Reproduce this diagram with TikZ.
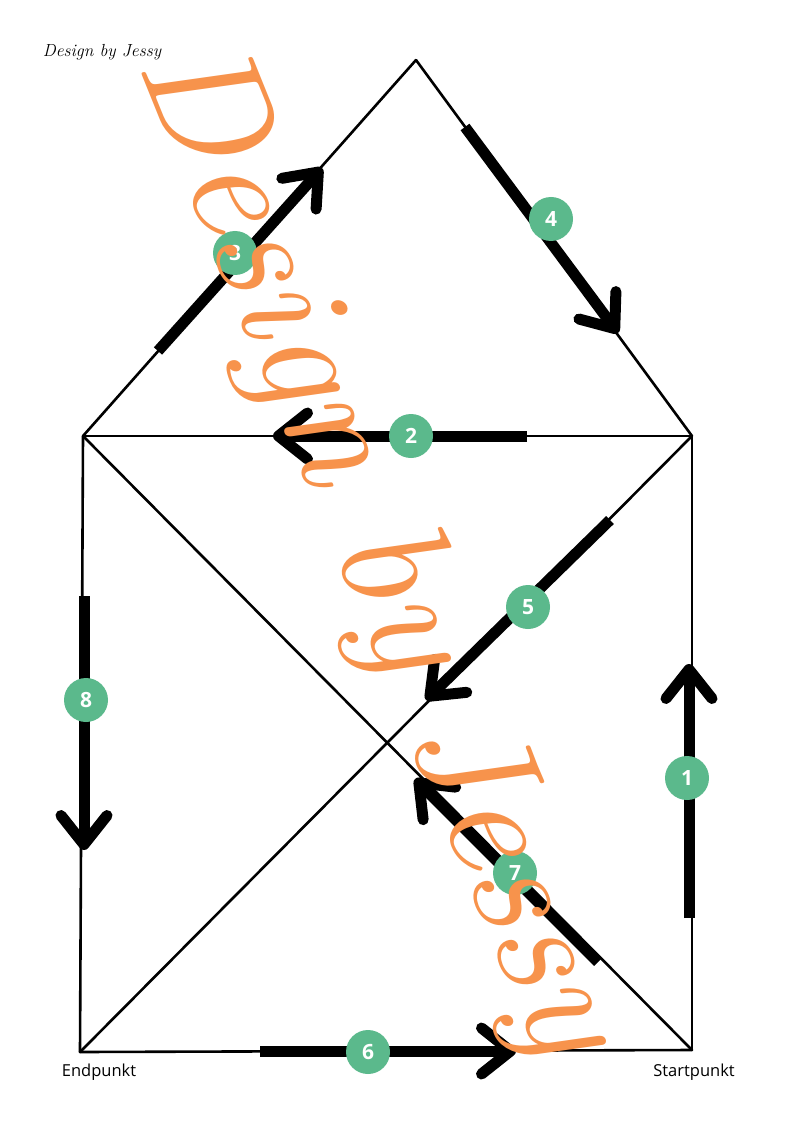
\documentclass[tikz,border=0pt]{standalone}
\usepackage{fontspec}
\newfontfamily\labelfont{Open Sans}
\usetikzlibrary{arrows.meta}
\definecolor{badge}{HTML}{5BB98C}
\definecolor{wmark}{HTML}{F7934C}
\begin{document}
\begin{tikzpicture}[x=1pt,y=-1pt,
  edge/.style={line width=2.6pt, line cap=round, line join=round},
  move/.style={line width=11pt, line cap=butt,
    -{Straight Barb[length=29pt,width=46pt,round]}},
  badgenode/.style={circle, fill=badge, minimum size=44pt, inner sep=0pt,
    text=white, font=\labelfont\bfseries\fontsize{21}{21}\selectfont},
  cornerlabel/.style={font=\labelfont\fontsize{16.5}{16.5}\selectfont, text=black}]
\useasboundingbox (0,0) rectangle (800,1131);
\fill[white] (0,0) rectangle (800,1131);
% corners
\coordinate (A) at (416,60);
\coordinate (L) at (83,436);
\coordinate (R) at (692,436);
\coordinate (BL) at (80,1052);
\coordinate (BR) at (692,1050);
% thin edges
\draw[edge] (A) -- (L);
\draw[edge] (A) -- (R);
\draw[edge] (L) -- (R);
\draw[edge] (L) -- (BL);
\draw[edge] (R) -- (BR);
\draw[edge] (BL) -- (BR);
\draw[edge] (L) -- (BR);
\draw[edge] (R) -- (BL);
% thick move segments
\coordinate (s1) at (689,918); \coordinate (e1) at (689,664);
\coordinate (s2) at (527,436); \coordinate (e2) at (273,436);
\coordinate (s3) at (158,351); \coordinate (e3) at (322,168);
\coordinate (s4) at (465,127); \coordinate (e4) at (618,333);
\coordinate (s5) at (610,520); \coordinate (e5) at (426,700);
\coordinate (s6) at (260,1051); \coordinate (e6) at (516,1051);
\coordinate (s7) at (598,962); \coordinate (e7) at (415,779);
\coordinate (s8) at (84,596); \coordinate (e8) at (84,850);
\foreach \i in {1,...,8} {\draw[move] (s\i) -- (e\i);}
% badges
\node[badgenode] (b1) at (687,778) {1};
\node[badgenode] (b2) at (411,436) {2};
\node[badgenode] (b3) at (235,253) {3};
\node[badgenode] (b4) at (551,219) {4};
\node[badgenode] (b5) at (528,607) {5};
\node[badgenode] (b6) at (368,1052) {6};
\node[badgenode] (b7) at (515,873) {7};
\node[badgenode] (b8) at (86,700) {8};
% labels
\node[cornerlabel] (endlbl) at (99,1072) {Endpunkt};
\node[cornerlabel] (startlbl) at (694,1072) {Startpunkt};
\node[font=\itshape\fontsize{17.5}{17.5}\selectfont] (sig) at (102,52) {Design by Jessy};
% watermark
\node[text=wmark, rotate=-68, font=\itshape\fontsize{160}{160}\selectfont] (wm) at (376,550) {Design by Jessy};
\end{tikzpicture}
\end{document}
